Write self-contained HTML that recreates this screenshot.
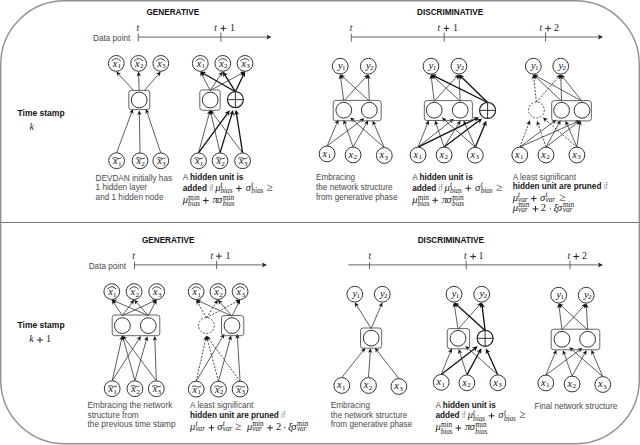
<!DOCTYPE html>
<html><head><meta charset="utf-8"><style>
html,body{margin:0;padding:0;background:#fff;width:640px;height:445px;overflow:hidden}
svg{display:block}

</style></head><body>
<svg width="640" height="445" viewBox="0 0 640 445">
<rect x="0.7" y="0.7" width="638.6" height="443.1" rx="64" ry="64" fill="none" stroke="#909090" stroke-width="1.4"/>
<line x1="0.5" y1="222.5" x2="639.5" y2="222.5" stroke="#777" stroke-width="1.1"/>
<text x="146.5" y="15.2" font-family="Liberation Sans" font-size="8.2" font-weight="bold" font-style="normal" fill="#111" text-anchor="start">GENERATIVE</text>
<text x="93" y="41.3" font-family="Liberation Sans" font-size="8.2" font-weight="normal" font-style="normal" fill="#4a4a4a" text-anchor="start">Data point</text>
<line x1="138.2" y1="37.1" x2="268.5" y2="37.1" stroke="#666" stroke-width="1"/>
<path d="M271.5 37.1L266.5 34.7L267.5 37.1L266.5 39.5Z" fill="#222"/>
<line x1="138.2" y1="33.3" x2="138.2" y2="41.3" stroke="#555" stroke-width="0.9"/>
<line x1="220.9" y1="32.7" x2="220.9" y2="41.7" stroke="#555" stroke-width="0.9"/>
<text x="136.6" y="30.7" font-family="Liberation Serif" font-size="9.5" font-style="italic" fill="#222">t</text>
<text x="214.2" y="30.7" font-family="Liberation Serif" font-size="9.5" font-style="italic" fill="#222">t</text>
<path d="M220.4 28.4H226.2M223.3 25.5V31.3" stroke="#222" stroke-width="0.95" fill="none"/>
<text x="230" y="30.7" font-family="Liberation Serif" font-size="10" fill="#222">1</text>
<text x="417" y="15.2" font-family="Liberation Sans" font-size="8.2" font-weight="bold" font-style="normal" fill="#111" text-anchor="start">DISCRIMINATIVE</text>
<line x1="351.3" y1="37" x2="600" y2="37" stroke="#666" stroke-width="1"/>
<path d="M603 37L598 34.6L599 37L598 39.4Z" fill="#222"/>
<line x1="351.3" y1="33.6" x2="351.3" y2="41.6" stroke="#555" stroke-width="0.9"/>
<line x1="444.2" y1="32.6" x2="444.2" y2="41.7" stroke="#555" stroke-width="0.9"/>
<line x1="545.6" y1="32.4" x2="545.6" y2="41.7" stroke="#555" stroke-width="0.9"/>
<text x="349.8" y="30.7" font-family="Liberation Serif" font-size="9.5" font-style="italic" fill="#222">t</text>
<text x="437.4" y="30.7" font-family="Liberation Serif" font-size="9.5" font-style="italic" fill="#222">t</text>
<path d="M443.5 28.4H449.3M446.4 25.5V31.3" stroke="#222" stroke-width="0.95" fill="none"/>
<text x="453.1" y="30.7" font-family="Liberation Serif" font-size="10" fill="#222">1</text>
<text x="539.6" y="30.7" font-family="Liberation Serif" font-size="9.5" font-style="italic" fill="#222">t</text>
<path d="M545.2 28.4H551M548.1 25.5V31.3" stroke="#222" stroke-width="0.95" fill="none"/>
<text x="554" y="30.7" font-family="Liberation Serif" font-size="10" fill="#222">2</text>
<text x="141.9" y="242.5" font-family="Liberation Sans" font-size="8.2" font-weight="bold" font-style="normal" fill="#111" text-anchor="start">GENERATIVE</text>
<text x="88.7" y="268.9" font-family="Liberation Sans" font-size="8.2" font-weight="normal" font-style="normal" fill="#4a4a4a" text-anchor="start">Data point</text>
<line x1="134.5" y1="264.9" x2="264" y2="264.9" stroke="#666" stroke-width="1"/>
<path d="M267 264.9L262 262.5L263 264.9L262 267.3Z" fill="#222"/>
<line x1="134.5" y1="261.7" x2="134.5" y2="269" stroke="#555" stroke-width="0.9"/>
<line x1="216.6" y1="260.9" x2="216.6" y2="269" stroke="#555" stroke-width="0.9"/>
<text x="132.3" y="258.5" font-family="Liberation Serif" font-size="9.5" font-style="italic" fill="#222">t</text>
<text x="210.5" y="258.5" font-family="Liberation Serif" font-size="9.5" font-style="italic" fill="#222">t</text>
<path d="M216 256.2H221.8M218.9 253.3V259.1" stroke="#222" stroke-width="0.95" fill="none"/>
<text x="225.5" y="258.5" font-family="Liberation Serif" font-size="10" fill="#222">1</text>
<text x="417.7" y="242.5" font-family="Liberation Sans" font-size="8.2" font-weight="bold" font-style="normal" fill="#111" text-anchor="start">DISCRIMINATIVE</text>
<line x1="348.3" y1="264.9" x2="600" y2="264.9" stroke="#666" stroke-width="1"/>
<path d="M603 264.9L598 262.5L599 264.9L598 267.3Z" fill="#222"/>
<line x1="369.5" y1="262.5" x2="369.5" y2="269.1" stroke="#555" stroke-width="0.9"/>
<line x1="466.2" y1="260.7" x2="466.2" y2="269.1" stroke="#555" stroke-width="0.9"/>
<line x1="570" y1="260.7" x2="570" y2="269.1" stroke="#555" stroke-width="0.9"/>
<text x="368.6" y="258.8" font-family="Liberation Serif" font-size="9.5" font-style="italic" fill="#222">t</text>
<text x="464.1" y="258.8" font-family="Liberation Serif" font-size="9.5" font-style="italic" fill="#222">t</text>
<path d="M470.2 256.5H476M473.1 253.6V259.4" stroke="#222" stroke-width="0.95" fill="none"/>
<text x="478.6" y="258.8" font-family="Liberation Serif" font-size="10" fill="#222">1</text>
<text x="567.6" y="258.8" font-family="Liberation Serif" font-size="9.5" font-style="italic" fill="#222">t</text>
<path d="M573.3 256.5H579.1M576.2 253.6V259.4" stroke="#222" stroke-width="0.95" fill="none"/>
<text x="582.1" y="258.8" font-family="Liberation Serif" font-size="10" fill="#222">2</text>
<text x="17.5" y="115.8" font-family="Liberation Sans" font-size="8.5" font-weight="bold" font-style="normal" fill="#111" text-anchor="start">Time stamp</text>
<text x="29.6" y="129.7" font-family="Liberation Serif" font-size="10" font-weight="normal" font-style="italic" fill="#222" text-anchor="start">k</text>
<text x="17.5" y="327.8" font-family="Liberation Sans" font-size="8.5" font-weight="bold" font-style="normal" fill="#111" text-anchor="start">Time stamp</text>
<text x="29.2" y="342.3" font-family="Liberation Serif" font-size="10" font-weight="normal" font-style="italic" fill="#222" text-anchor="start">k</text>
<path d="M37.1 340H42.9M40 337.1V342.9" stroke="#222" stroke-width="0.95" fill="none"/>
<text x="46.1" y="342.3" font-family="Liberation Serif" font-size="10" font-weight="normal" font-style="normal" fill="#222" text-anchor="start">1</text>
<line x1="133.8" y1="90.6" x2="118.25" y2="73.72" stroke="#2a2a2a" stroke-width="0.75"/>
<path d="M116.3 71.6L121.17 73.64L118.58 74.07L117.93 76.62Z" fill="#111"/>
<line x1="139.1" y1="90.6" x2="138.68" y2="74.48" stroke="#2a2a2a" stroke-width="0.75"/>
<path d="M138.6 71.6L140.93 76.34L138.69 74.96L136.53 76.46Z" fill="#111"/>
<line x1="144.4" y1="90.6" x2="158.92" y2="73.78" stroke="#2a2a2a" stroke-width="0.75"/>
<path d="M160.8 71.6L159.33 76.67L158.6 74.14L156 73.8Z" fill="#111"/>
<line x1="116.6" y1="152.8" x2="131.9" y2="111.6" stroke="#2a2a2a" stroke-width="0.75"/>
<path d="M132.9 108.9L133.29 114.17L131.73 112.05L129.17 112.63Z" fill="#111"/>
<line x1="140" y1="152.9" x2="139.35" y2="113.28" stroke="#2a2a2a" stroke-width="0.75"/>
<path d="M139.3 110.4L141.58 115.16L139.36 113.76L137.18 115.24Z" fill="#111"/>
<line x1="160.8" y1="152.9" x2="146.92" y2="111.63" stroke="#2a2a2a" stroke-width="0.75"/>
<path d="M146 108.9L149.62 112.75L147.07 112.08L145.45 114.15Z" fill="#111"/>
<rect x="128.8" y="90.4" width="21" height="19.2" rx="2.6" fill="none" stroke="#555" stroke-width="0.9"/>
<circle cx="139.2" cy="100" r="7.9" fill="#fff" stroke="#333" stroke-width="1.0"/>
<circle cx="116.3" cy="63.4" r="7.9" fill="#fff" stroke="#333" stroke-width="1.0"/>
<text x="112.7" y="67" font-family="Liberation Serif" font-size="10.4" font-style="italic" fill="#111">x</text>
<text x="117.6" y="68.4" font-family="Liberation Serif" font-size="7.1" fill="#111">1</text>
<path d="M111.7 61Q114.1 58.8 116.3 58.5Q118.5 58.8 120.9 61" fill="none" stroke="#222" stroke-width="0.85" stroke-linejoin="round"/>
<circle cx="138.6" cy="63.4" r="7.9" fill="#fff" stroke="#333" stroke-width="1.0"/>
<text x="135" y="67" font-family="Liberation Serif" font-size="10.4" font-style="italic" fill="#111">x</text>
<text x="139.9" y="68.4" font-family="Liberation Serif" font-size="7.1" fill="#111">2</text>
<path d="M134 61Q136.4 58.8 138.6 58.5Q140.8 58.8 143.2 61" fill="none" stroke="#222" stroke-width="0.85" stroke-linejoin="round"/>
<circle cx="160.8" cy="63.4" r="7.9" fill="#fff" stroke="#333" stroke-width="1.0"/>
<text x="157.2" y="67" font-family="Liberation Serif" font-size="10.4" font-style="italic" fill="#111">x</text>
<text x="162.1" y="68.4" font-family="Liberation Serif" font-size="7.1" fill="#111">3</text>
<path d="M156.2 61Q158.6 58.8 160.8 58.5Q163 58.8 165.4 61" fill="none" stroke="#222" stroke-width="0.85" stroke-linejoin="round"/>
<circle cx="116.6" cy="160.7" r="7.9" fill="#fff" stroke="#333" stroke-width="1.0"/>
<text x="113" y="164.3" font-family="Liberation Serif" font-size="10.4" font-style="italic" fill="#111">x</text>
<text x="117.9" y="165.7" font-family="Liberation Serif" font-size="7.1" fill="#111">1</text>
<path d="M112.3 158.7C113.6 157.1 115.6 157.5 116.9 158.1S120.2 159.1 121.5 157.5" fill="none" stroke="#222" stroke-width="0.85"/>
<circle cx="140" cy="160.8" r="7.9" fill="#fff" stroke="#333" stroke-width="1.0"/>
<text x="136.4" y="164.4" font-family="Liberation Serif" font-size="10.4" font-style="italic" fill="#111">x</text>
<text x="141.3" y="165.8" font-family="Liberation Serif" font-size="7.1" fill="#111">2</text>
<path d="M135.7 158.8C137 157.2 139 157.6 140.3 158.2S143.6 159.2 144.9 157.6" fill="none" stroke="#222" stroke-width="0.85"/>
<circle cx="160.8" cy="160.8" r="7.9" fill="#fff" stroke="#333" stroke-width="1.0"/>
<text x="157.2" y="164.4" font-family="Liberation Serif" font-size="10.4" font-style="italic" fill="#111">x</text>
<text x="162.1" y="165.8" font-family="Liberation Serif" font-size="7.1" fill="#111">3</text>
<path d="M156.5 158.8C157.8 157.2 159.8 157.6 161.1 158.2S164.4 159.2 165.7 157.6" fill="none" stroke="#222" stroke-width="0.85"/>
<line x1="210.2" y1="90.5" x2="201.64" y2="74.15" stroke="#2a2a2a" stroke-width="0.75"/>
<path d="M200.3 71.6L204.48 74.83L201.86 74.58L200.58 76.87Z" fill="#111"/>
<line x1="210.2" y1="90.5" x2="221.2" y2="74" stroke="#2a2a2a" stroke-width="0.75"/>
<path d="M222.8 71.6L221.97 76.81L220.94 74.4L218.31 74.37Z" fill="#111"/>
<line x1="210.2" y1="90.5" x2="242.47" y2="72.97" stroke="#2a2a2a" stroke-width="0.75"/>
<path d="M245 71.6L241.83 75.82L242.05 73.2L239.73 71.96Z" fill="#111"/>
<line x1="235.4" y1="91.7" x2="203.11" y2="73.21" stroke="#111" stroke-width="1.3"/>
<path d="M200.3 71.6L206.28 72.03L203.58 73.48L203.69 76.54Z" fill="#111"/>
<line x1="235.4" y1="91.7" x2="224.52" y2="74.35" stroke="#111" stroke-width="1.3"/>
<path d="M222.8 71.6L227.87 74.79L224.81 74.8L223.47 77.56Z" fill="#111"/>
<line x1="235.4" y1="91.7" x2="243.6" y2="74.52" stroke="#111" stroke-width="1.3"/>
<path d="M245 71.6L245.02 77.59L243.37 75.01L240.33 75.35Z" fill="#111"/>
<line x1="198.5" y1="152.9" x2="209.44" y2="112.68" stroke="#2a2a2a" stroke-width="0.75"/>
<path d="M210.2 109.9L211.06 115.11L209.32 113.14L206.82 113.95Z" fill="#111"/>
<line x1="198.5" y1="152.9" x2="227.88" y2="112.91" stroke="#111" stroke-width="1.3"/>
<path d="M229.8 110.3L228.7 116.19L227.56 113.35L224.51 113.11Z" fill="#111"/>
<line x1="220" y1="152.9" x2="210.84" y2="112.71" stroke="#2a2a2a" stroke-width="0.75"/>
<path d="M210.2 109.9L213.41 114.09L210.95 113.18L209.12 115.07Z" fill="#111"/>
<line x1="220" y1="152.9" x2="232.15" y2="113.1" stroke="#111" stroke-width="1.3"/>
<path d="M233.1 110L234.01 115.92L232 113.62L229.04 114.41Z" fill="#111"/>
<line x1="242.6" y1="152.9" x2="211.93" y2="112.2" stroke="#2a2a2a" stroke-width="0.75"/>
<path d="M210.2 109.9L214.85 112.41L212.22 112.58L211.33 115.06Z" fill="#111"/>
<line x1="242.6" y1="152.9" x2="236.4" y2="113" stroke="#111" stroke-width="1.3"/>
<path d="M235.9 109.8L239.3 114.74L236.48 113.54L234.16 115.54Z" fill="#111"/>
<rect x="199.8" y="89.9" width="20.4" height="20.4" rx="2.6" fill="none" stroke="#555" stroke-width="0.9"/>
<circle cx="210.2" cy="100" r="7.9" fill="#fff" stroke="#333" stroke-width="1.0"/>
<circle cx="235.4" cy="99.6" r="8.0" fill="#fff" stroke="#1a1a1a" stroke-width="1.15"/>
<path d="M227.4 99.6H243.4M235.4 91.6V107.6" stroke="#333" stroke-width="1"/>
<circle cx="200.3" cy="63.4" r="7.9" fill="#fff" stroke="#333" stroke-width="1.0"/>
<text x="196.7" y="67" font-family="Liberation Serif" font-size="10.4" font-style="italic" fill="#111">x</text>
<text x="201.6" y="68.4" font-family="Liberation Serif" font-size="7.1" fill="#111">1</text>
<path d="M195.7 61Q198.1 58.8 200.3 58.5Q202.5 58.8 204.9 61" fill="none" stroke="#222" stroke-width="0.85" stroke-linejoin="round"/>
<circle cx="222.8" cy="63.4" r="7.9" fill="#fff" stroke="#333" stroke-width="1.0"/>
<text x="219.2" y="67" font-family="Liberation Serif" font-size="10.4" font-style="italic" fill="#111">x</text>
<text x="224.1" y="68.4" font-family="Liberation Serif" font-size="7.1" fill="#111">2</text>
<path d="M218.2 61Q220.6 58.8 222.8 58.5Q225 58.8 227.4 61" fill="none" stroke="#222" stroke-width="0.85" stroke-linejoin="round"/>
<circle cx="245" cy="63.4" r="7.9" fill="#fff" stroke="#333" stroke-width="1.0"/>
<text x="241.4" y="67" font-family="Liberation Serif" font-size="10.4" font-style="italic" fill="#111">x</text>
<text x="246.3" y="68.4" font-family="Liberation Serif" font-size="7.1" fill="#111">3</text>
<path d="M240.4 61Q242.8 58.8 245 58.5Q247.2 58.8 249.6 61" fill="none" stroke="#222" stroke-width="0.85" stroke-linejoin="round"/>
<circle cx="198.5" cy="160.8" r="7.9" fill="#fff" stroke="#333" stroke-width="1.0"/>
<text x="194.9" y="164.4" font-family="Liberation Serif" font-size="10.4" font-style="italic" fill="#111">x</text>
<text x="199.8" y="165.8" font-family="Liberation Serif" font-size="7.1" fill="#111">1</text>
<path d="M194.2 158.8C195.5 157.2 197.5 157.6 198.8 158.2S202.1 159.2 203.4 157.6" fill="none" stroke="#222" stroke-width="0.85"/>
<circle cx="220" cy="160.8" r="7.9" fill="#fff" stroke="#333" stroke-width="1.0"/>
<text x="216.4" y="164.4" font-family="Liberation Serif" font-size="10.4" font-style="italic" fill="#111">x</text>
<text x="221.3" y="165.8" font-family="Liberation Serif" font-size="7.1" fill="#111">2</text>
<path d="M215.7 158.8C217 157.2 219 157.6 220.3 158.2S223.6 159.2 224.9 157.6" fill="none" stroke="#222" stroke-width="0.85"/>
<circle cx="242.6" cy="160.8" r="7.9" fill="#fff" stroke="#333" stroke-width="1.0"/>
<text x="239" y="164.4" font-family="Liberation Serif" font-size="10.4" font-style="italic" fill="#111">x</text>
<text x="243.9" y="165.8" font-family="Liberation Serif" font-size="7.1" fill="#111">3</text>
<path d="M238.3 158.8C239.6 157.2 241.6 157.6 242.9 158.2S246.2 159.2 247.5 157.6" fill="none" stroke="#222" stroke-width="0.85"/>
<line x1="343.8" y1="101" x2="340.59" y2="77.25" stroke="#2a2a2a" stroke-width="0.75"/>
<path d="M340.2 74.4L343.02 78.86L340.65 77.73L338.66 79.45Z" fill="#111"/>
<line x1="343.8" y1="101" x2="366.35" y2="76.52" stroke="#2a2a2a" stroke-width="0.75"/>
<path d="M368.3 74.4L366.67 79.42L366.02 76.87L363.43 76.44Z" fill="#111"/>
<line x1="369.3" y1="101" x2="342.33" y2="76.34" stroke="#2a2a2a" stroke-width="0.75"/>
<path d="M340.2 74.4L345.23 76.01L342.68 76.67L342.26 79.26Z" fill="#111"/>
<line x1="369.3" y1="101" x2="368.41" y2="77.28" stroke="#2a2a2a" stroke-width="0.75"/>
<path d="M368.3 74.4L370.68 79.11L368.43 77.76L366.28 79.28Z" fill="#111"/>
<line x1="327.1" y1="146" x2="337.27" y2="122.25" stroke="#2a2a2a" stroke-width="0.75"/>
<path d="M338.4 119.6L338.53 124.88L337.08 122.69L334.49 123.15Z" fill="#111"/>
<line x1="327.1" y1="146" x2="362.09" y2="119.92" stroke="#2a2a2a" stroke-width="0.75"/>
<path d="M364.4 118.2L361.87 122.83L361.71 120.21L359.24 119.3Z" fill="#111"/>
<line x1="353.1" y1="147" x2="344.55" y2="122.52" stroke="#2a2a2a" stroke-width="0.75"/>
<path d="M343.6 119.8L347.26 123.61L344.71 122.97L343.11 125.06Z" fill="#111"/>
<line x1="353.1" y1="147" x2="366.78" y2="122.81" stroke="#2a2a2a" stroke-width="0.75"/>
<path d="M368.2 120.3L367.75 125.56L366.55 123.22L363.92 123.4Z" fill="#111"/>
<line x1="384.3" y1="147.6" x2="352.36" y2="119.5" stroke="#2a2a2a" stroke-width="0.75"/>
<path d="M350.2 117.6L355.26 119.12L352.72 119.82L352.35 122.42Z" fill="#111"/>
<line x1="384.3" y1="147.6" x2="373.75" y2="123.24" stroke="#2a2a2a" stroke-width="0.75"/>
<path d="M372.6 120.6L376.53 124.13L373.94 123.68L372.49 125.88Z" fill="#111"/>
<rect x="333.2" y="100.4" width="48" height="20.4" rx="2.6" fill="none" stroke="#555" stroke-width="0.9"/>
<circle cx="343.8" cy="110.2" r="7.9" fill="#fff" stroke="#333" stroke-width="1.0"/>
<circle cx="369.3" cy="110.2" r="7.9" fill="#fff" stroke="#333" stroke-width="1.0"/>
<circle cx="340.2" cy="66.2" r="7.9" fill="#fff" stroke="#333" stroke-width="1.0"/>
<text x="337.9" y="68.5" font-family="Liberation Serif" font-size="10.4" font-style="italic" fill="#111">y</text>
<text x="342" y="70.3" font-family="Liberation Serif" font-size="7.1" fill="#111">1</text>
<circle cx="368.3" cy="66.2" r="7.9" fill="#fff" stroke="#333" stroke-width="1.0"/>
<text x="366" y="68.5" font-family="Liberation Serif" font-size="10.4" font-style="italic" fill="#111">y</text>
<text x="370.1" y="70.3" font-family="Liberation Serif" font-size="7.1" fill="#111">2</text>
<circle cx="327.1" cy="153.9" r="7.9" fill="#fff" stroke="#333" stroke-width="1.0"/>
<text x="322.4" y="156.8" font-family="Liberation Serif" font-size="10.4" font-style="italic" fill="#111">x</text>
<text x="327.4" y="158.1" font-family="Liberation Serif" font-size="7.1" fill="#111">1</text>
<circle cx="353.1" cy="154.9" r="7.9" fill="#fff" stroke="#333" stroke-width="1.0"/>
<text x="348.4" y="157.8" font-family="Liberation Serif" font-size="10.4" font-style="italic" fill="#111">x</text>
<text x="353.4" y="159.1" font-family="Liberation Serif" font-size="7.1" fill="#111">2</text>
<circle cx="384.3" cy="155.5" r="7.9" fill="#fff" stroke="#333" stroke-width="1.0"/>
<text x="379.6" y="158.4" font-family="Liberation Serif" font-size="10.4" font-style="italic" fill="#111">x</text>
<text x="384.6" y="159.7" font-family="Liberation Serif" font-size="7.1" fill="#111">3</text>
<line x1="434.2" y1="101.2" x2="431.34" y2="77.26" stroke="#2a2a2a" stroke-width="0.75"/>
<path d="M431 74.4L433.75 78.91L431.4 77.74L429.38 79.43Z" fill="#111"/>
<line x1="434.2" y1="101.2" x2="456.95" y2="76.52" stroke="#2a2a2a" stroke-width="0.75"/>
<path d="M458.9 74.4L457.26 79.42L456.62 76.87L454.03 76.44Z" fill="#111"/>
<line x1="460.2" y1="101.2" x2="433.12" y2="76.35" stroke="#2a2a2a" stroke-width="0.75"/>
<path d="M431 74.4L436.02 76.02L433.48 76.67L433.05 79.27Z" fill="#111"/>
<line x1="460.2" y1="101.2" x2="459.04" y2="77.28" stroke="#2a2a2a" stroke-width="0.75"/>
<path d="M458.9 74.4L461.33 79.09L459.06 77.76L456.94 79.3Z" fill="#111"/>
<line x1="487.6" y1="102.5" x2="433.9" y2="75.84" stroke="#111" stroke-width="1.3"/>
<path d="M431 74.4L436.99 74.47L434.39 76.08L434.68 79.13Z" fill="#111"/>
<line x1="487.6" y1="102.5" x2="461.22" y2="76.67" stroke="#111" stroke-width="1.3"/>
<path d="M458.9 74.4L464.58 76.32L461.6 77.04L460.94 80.04Z" fill="#111"/>
<line x1="418.1" y1="147.1" x2="427.73" y2="122.97" stroke="#2a2a2a" stroke-width="0.75"/>
<path d="M428.8 120.3L429.06 125.57L427.55 123.42L424.98 123.94Z" fill="#111"/>
<line x1="418.1" y1="147.1" x2="451.54" y2="120.59" stroke="#2a2a2a" stroke-width="0.75"/>
<path d="M453.8 118.8L451.41 123.51L451.17 120.89L448.67 120.06Z" fill="#111"/>
<line x1="418.1" y1="147.1" x2="476.09" y2="118.63" stroke="#111" stroke-width="1.3"/>
<path d="M479 117.2L475.3 121.91L475.61 118.87L473.01 117.25Z" fill="#111"/>
<line x1="444.1" y1="147.1" x2="435.93" y2="123.22" stroke="#2a2a2a" stroke-width="0.75"/>
<path d="M435 120.5L438.64 124.33L436.09 123.68L434.47 125.75Z" fill="#111"/>
<line x1="444.1" y1="147.1" x2="459.08" y2="122.95" stroke="#2a2a2a" stroke-width="0.75"/>
<path d="M460.6 120.5L459.94 125.74L458.83 123.36L456.2 123.42Z" fill="#111"/>
<line x1="444.1" y1="147.1" x2="479.61" y2="120.35" stroke="#111" stroke-width="1.3"/>
<path d="M482.2 118.4L479.45 123.73L479.18 120.67L476.32 119.57Z" fill="#111"/>
<line x1="475.3" y1="147.3" x2="444.05" y2="119.51" stroke="#2a2a2a" stroke-width="0.75"/>
<path d="M441.9 117.6L446.95 119.15L444.41 119.83L444.03 122.43Z" fill="#111"/>
<line x1="475.3" y1="147.3" x2="464.75" y2="123.14" stroke="#2a2a2a" stroke-width="0.75"/>
<path d="M463.6 120.5L467.54 124.02L464.94 123.58L463.5 125.78Z" fill="#111"/>
<line x1="475.3" y1="147.3" x2="485.06" y2="123.79" stroke="#111" stroke-width="1.3"/>
<path d="M486.3 120.8L486.63 126.78L484.85 124.29L481.83 124.79Z" fill="#111"/>
<rect x="424.3" y="100.6" width="48.1" height="19.9" rx="2.6" fill="none" stroke="#555" stroke-width="0.9"/>
<circle cx="434.2" cy="110.2" r="7.9" fill="#fff" stroke="#333" stroke-width="1.0"/>
<circle cx="460.2" cy="110.2" r="7.9" fill="#fff" stroke="#333" stroke-width="1.0"/>
<circle cx="487.6" cy="110.4" r="8.0" fill="#fff" stroke="#1a1a1a" stroke-width="1.15"/>
<path d="M479.6 110.4H495.6M487.6 102.4V118.4" stroke="#333" stroke-width="1"/>
<circle cx="431" cy="66.2" r="7.9" fill="#fff" stroke="#333" stroke-width="1.0"/>
<text x="428.7" y="68.5" font-family="Liberation Serif" font-size="10.4" font-style="italic" fill="#111">y</text>
<text x="432.8" y="70.3" font-family="Liberation Serif" font-size="7.1" fill="#111">1</text>
<circle cx="458.9" cy="66.2" r="7.9" fill="#fff" stroke="#333" stroke-width="1.0"/>
<text x="456.6" y="68.5" font-family="Liberation Serif" font-size="10.4" font-style="italic" fill="#111">y</text>
<text x="460.7" y="70.3" font-family="Liberation Serif" font-size="7.1" fill="#111">2</text>
<circle cx="418.1" cy="155" r="7.9" fill="#fff" stroke="#333" stroke-width="1.0"/>
<text x="413.4" y="157.9" font-family="Liberation Serif" font-size="10.4" font-style="italic" fill="#111">x</text>
<text x="418.4" y="159.2" font-family="Liberation Serif" font-size="7.1" fill="#111">1</text>
<circle cx="444.1" cy="155" r="7.9" fill="#fff" stroke="#333" stroke-width="1.0"/>
<text x="439.4" y="157.9" font-family="Liberation Serif" font-size="10.4" font-style="italic" fill="#111">x</text>
<text x="444.4" y="159.2" font-family="Liberation Serif" font-size="7.1" fill="#111">2</text>
<circle cx="475.3" cy="155.2" r="7.9" fill="#fff" stroke="#333" stroke-width="1.0"/>
<text x="470.6" y="158.1" font-family="Liberation Serif" font-size="10.4" font-style="italic" fill="#111">x</text>
<text x="475.6" y="159.4" font-family="Liberation Serif" font-size="7.1" fill="#111">3</text>
<line x1="561.6" y1="101.2" x2="535.39" y2="76.38" stroke="#2a2a2a" stroke-width="0.75"/>
<path d="M533.3 74.4L538.3 76.1L535.74 76.71L535.27 79.3Z" fill="#111"/>
<line x1="561.6" y1="101.2" x2="560.8" y2="77.28" stroke="#2a2a2a" stroke-width="0.75"/>
<path d="M560.7 74.4L563.06 79.12L560.81 77.76L558.66 79.27Z" fill="#111"/>
<line x1="582" y1="101.2" x2="535.82" y2="75.79" stroke="#2a2a2a" stroke-width="0.75"/>
<path d="M533.3 74.4L538.57 74.79L536.24 76.02L536.44 78.64Z" fill="#111"/>
<line x1="582" y1="101.2" x2="562.49" y2="76.65" stroke="#2a2a2a" stroke-width="0.75"/>
<path d="M560.7 74.4L565.41 76.79L562.79 77.03L561.96 79.53Z" fill="#111"/>
<line x1="536.4" y1="102.1" x2="533.62" y2="77.26" stroke="#2a2a2a" stroke-width="0.85" stroke-dasharray="2 1.4"/>
<path d="M533.3 74.4L536.02 78.93L533.67 77.74L531.65 79.41Z" fill="#111"/>
<line x1="536.4" y1="102.1" x2="558.8" y2="76.56" stroke="#2a2a2a" stroke-width="0.85" stroke-dasharray="2 1.4"/>
<path d="M560.7 74.4L559.19 79.46L558.48 76.93L555.88 76.56Z" fill="#111"/>
<line x1="519.8" y1="147.1" x2="553.99" y2="121.52" stroke="#2a2a2a" stroke-width="0.75"/>
<path d="M556.3 119.8L553.77 124.44L553.61 121.81L551.14 120.91Z" fill="#111"/>
<line x1="519.8" y1="147.1" x2="577.67" y2="121.56" stroke="#2a2a2a" stroke-width="0.75"/>
<path d="M580.3 120.4L576.8 124.35L577.23 121.76L575.02 120.33Z" fill="#111"/>
<line x1="519.8" y1="147.1" x2="528.98" y2="122.99" stroke="#2a2a2a" stroke-width="0.85" stroke-dasharray="2 1.4"/>
<path d="M530 120.3L530.35 125.57L528.8 123.44L526.24 124Z" fill="#111"/>
<line x1="546" y1="147.1" x2="559.22" y2="122.83" stroke="#2a2a2a" stroke-width="0.75"/>
<path d="M560.6 120.3L560.24 125.57L558.99 123.25L556.37 123.46Z" fill="#111"/>
<line x1="546" y1="147.1" x2="578.03" y2="122.17" stroke="#2a2a2a" stroke-width="0.75"/>
<path d="M580.3 120.4L577.86 125.08L577.65 122.46L575.16 121.61Z" fill="#111"/>
<line x1="546" y1="147.1" x2="537.94" y2="123.62" stroke="#2a2a2a" stroke-width="0.85" stroke-dasharray="2 1.4"/>
<path d="M537 120.9L540.64 124.72L538.09 124.08L536.48 126.15Z" fill="#111"/>
<line x1="576.9" y1="147.1" x2="566.65" y2="123.44" stroke="#2a2a2a" stroke-width="0.75"/>
<path d="M565.5 120.8L569.43 124.33L566.84 123.88L565.39 126.08Z" fill="#111"/>
<line x1="576.9" y1="147.1" x2="579.94" y2="123.26" stroke="#2a2a2a" stroke-width="0.75"/>
<path d="M580.3 120.4L581.88 125.44L579.88 123.73L577.51 124.88Z" fill="#111"/>
<line x1="576.9" y1="147.1" x2="545.17" y2="119.49" stroke="#2a2a2a" stroke-width="0.85" stroke-dasharray="2 1.4"/>
<path d="M543 117.6L548.07 119.09L545.53 119.81L545.18 122.41Z" fill="#111"/>
<rect x="551.7" y="100.6" width="39.7" height="20.3" rx="2.6" fill="none" stroke="#555" stroke-width="0.9"/>
<circle cx="561.6" cy="110.3" r="7.9" fill="#fff" stroke="#333" stroke-width="1.0"/>
<circle cx="582" cy="110.3" r="7.9" fill="#fff" stroke="#333" stroke-width="1.0"/>
<circle cx="536.4" cy="110" r="7.9" fill="#fff" stroke="#444" stroke-width="0.95" stroke-dasharray="1.9 1.6"/>
<circle cx="533.3" cy="66.2" r="7.9" fill="#fff" stroke="#333" stroke-width="1.0"/>
<text x="531" y="68.5" font-family="Liberation Serif" font-size="10.4" font-style="italic" fill="#111">y</text>
<text x="535.1" y="70.3" font-family="Liberation Serif" font-size="7.1" fill="#111">1</text>
<circle cx="560.7" cy="66.2" r="7.9" fill="#fff" stroke="#333" stroke-width="1.0"/>
<text x="558.4" y="68.5" font-family="Liberation Serif" font-size="10.4" font-style="italic" fill="#111">y</text>
<text x="562.5" y="70.3" font-family="Liberation Serif" font-size="7.1" fill="#111">2</text>
<circle cx="519.8" cy="155" r="7.9" fill="#fff" stroke="#333" stroke-width="1.0"/>
<text x="515.1" y="157.9" font-family="Liberation Serif" font-size="10.4" font-style="italic" fill="#111">x</text>
<text x="520.1" y="159.2" font-family="Liberation Serif" font-size="7.1" fill="#111">1</text>
<circle cx="546" cy="155" r="7.9" fill="#fff" stroke="#333" stroke-width="1.0"/>
<text x="541.3" y="157.9" font-family="Liberation Serif" font-size="10.4" font-style="italic" fill="#111">x</text>
<text x="546.3" y="159.2" font-family="Liberation Serif" font-size="7.1" fill="#111">2</text>
<circle cx="576.9" cy="155" r="7.9" fill="#fff" stroke="#333" stroke-width="1.0"/>
<text x="572.2" y="157.9" font-family="Liberation Serif" font-size="10.4" font-style="italic" fill="#111">x</text>
<text x="577.2" y="159.2" font-family="Liberation Serif" font-size="7.1" fill="#111">3</text>
<line x1="122.4" y1="315.6" x2="113.4" y2="302.19" stroke="#2a2a2a" stroke-width="0.75"/>
<path d="M111.8 299.8L116.3 302.56L113.67 302.59L112.65 305.01Z" fill="#111"/>
<line x1="122.4" y1="315.6" x2="132.39" y2="302.11" stroke="#2a2a2a" stroke-width="0.75"/>
<path d="M134.1 299.8L133.01 304.97L132.1 302.5L129.48 302.35Z" fill="#111"/>
<line x1="122.4" y1="315.6" x2="154.08" y2="301" stroke="#2a2a2a" stroke-width="0.75"/>
<path d="M156.7 299.8L153.26 303.81L153.65 301.21L151.42 299.81Z" fill="#111"/>
<line x1="148.3" y1="315.6" x2="114.44" y2="300.94" stroke="#2a2a2a" stroke-width="0.75"/>
<path d="M111.8 299.8L117.08 299.69L114.88 301.13L115.33 303.73Z" fill="#111"/>
<line x1="148.3" y1="315.6" x2="136.03" y2="301.94" stroke="#2a2a2a" stroke-width="0.75"/>
<path d="M134.1 299.8L138.94 301.9L136.35 302.3L135.67 304.84Z" fill="#111"/>
<line x1="148.3" y1="315.6" x2="155.35" y2="302.34" stroke="#2a2a2a" stroke-width="0.75"/>
<path d="M156.7 299.8L156.39 305.07L155.12 302.77L152.5 303.01Z" fill="#111"/>
<line x1="112.2" y1="380.8" x2="121.77" y2="338.31" stroke="#2a2a2a" stroke-width="0.75"/>
<path d="M122.4 335.5L123.49 340.67L121.66 338.78L119.2 339.7Z" fill="#111"/>
<line x1="112.2" y1="380.8" x2="139.35" y2="338.43" stroke="#2a2a2a" stroke-width="0.75"/>
<path d="M140.9 336L140.16 341.23L139.09 338.83L136.46 338.86Z" fill="#111"/>
<line x1="134.9" y1="380.8" x2="123.17" y2="338.28" stroke="#2a2a2a" stroke-width="0.75"/>
<path d="M122.4 335.5L125.8 339.54L123.29 338.74L121.56 340.71Z" fill="#111"/>
<line x1="134.9" y1="380.8" x2="146.62" y2="338.97" stroke="#2a2a2a" stroke-width="0.75"/>
<path d="M147.4 336.2L148.22 341.42L146.49 339.44L143.99 340.23Z" fill="#111"/>
<line x1="156.3" y1="380.8" x2="124.13" y2="337.81" stroke="#2a2a2a" stroke-width="0.75"/>
<path d="M122.4 335.5L127.04 338.02L124.41 338.19L123.51 340.66Z" fill="#111"/>
<line x1="156.3" y1="380.8" x2="154.8" y2="338.88" stroke="#2a2a2a" stroke-width="0.75"/>
<path d="M154.7 336L157.07 340.72L154.82 339.36L152.67 340.88Z" fill="#111"/>
<rect x="112.2" y="315" width="47.6" height="20.7" rx="2.6" fill="none" stroke="#555" stroke-width="0.9"/>
<circle cx="122.4" cy="325.6" r="7.9" fill="#fff" stroke="#333" stroke-width="1.0"/>
<circle cx="148.3" cy="325.6" r="7.9" fill="#fff" stroke="#333" stroke-width="1.0"/>
<circle cx="111.8" cy="291.6" r="7.9" fill="#fff" stroke="#333" stroke-width="1.0"/>
<text x="108.2" y="295.2" font-family="Liberation Serif" font-size="10.4" font-style="italic" fill="#111">x</text>
<text x="113.1" y="296.6" font-family="Liberation Serif" font-size="7.1" fill="#111">1</text>
<path d="M107.2 289.2Q109.6 287 111.8 286.7Q114 287 116.4 289.2" fill="none" stroke="#222" stroke-width="0.85" stroke-linejoin="round"/>
<circle cx="134.1" cy="291.6" r="7.9" fill="#fff" stroke="#333" stroke-width="1.0"/>
<text x="130.5" y="295.2" font-family="Liberation Serif" font-size="10.4" font-style="italic" fill="#111">x</text>
<text x="135.4" y="296.6" font-family="Liberation Serif" font-size="7.1" fill="#111">2</text>
<path d="M129.5 289.2Q131.9 287 134.1 286.7Q136.3 287 138.7 289.2" fill="none" stroke="#222" stroke-width="0.85" stroke-linejoin="round"/>
<circle cx="156.7" cy="291.6" r="7.9" fill="#fff" stroke="#333" stroke-width="1.0"/>
<text x="153.1" y="295.2" font-family="Liberation Serif" font-size="10.4" font-style="italic" fill="#111">x</text>
<text x="158" y="296.6" font-family="Liberation Serif" font-size="7.1" fill="#111">3</text>
<path d="M152.1 289.2Q154.5 287 156.7 286.7Q158.9 287 161.3 289.2" fill="none" stroke="#222" stroke-width="0.85" stroke-linejoin="round"/>
<circle cx="112.2" cy="388.7" r="7.9" fill="#fff" stroke="#333" stroke-width="1.0"/>
<text x="108.6" y="392.3" font-family="Liberation Serif" font-size="10.4" font-style="italic" fill="#111">x</text>
<text x="113.5" y="393.7" font-family="Liberation Serif" font-size="7.1" fill="#111">1</text>
<path d="M107.9 386.7C109.2 385.1 111.2 385.5 112.5 386.1S115.8 387.1 117.1 385.5" fill="none" stroke="#222" stroke-width="0.85"/>
<circle cx="134.9" cy="388.7" r="7.9" fill="#fff" stroke="#333" stroke-width="1.0"/>
<text x="131.3" y="392.3" font-family="Liberation Serif" font-size="10.4" font-style="italic" fill="#111">x</text>
<text x="136.2" y="393.7" font-family="Liberation Serif" font-size="7.1" fill="#111">2</text>
<path d="M130.6 386.7C131.9 385.1 133.9 385.5 135.2 386.1S138.5 387.1 139.8 385.5" fill="none" stroke="#222" stroke-width="0.85"/>
<circle cx="156.3" cy="388.7" r="7.9" fill="#fff" stroke="#333" stroke-width="1.0"/>
<text x="152.7" y="392.3" font-family="Liberation Serif" font-size="10.4" font-style="italic" fill="#111">x</text>
<text x="157.6" y="393.7" font-family="Liberation Serif" font-size="7.1" fill="#111">3</text>
<path d="M152 386.7C153.3 385.1 155.3 385.5 156.6 386.1S159.9 387.1 161.2 385.5" fill="none" stroke="#222" stroke-width="0.85"/>
<line x1="232" y1="316.1" x2="198.82" y2="300.99" stroke="#2a2a2a" stroke-width="0.75"/>
<path d="M196.2 299.8L201.48 299.79L199.26 301.19L199.66 303.79Z" fill="#111"/>
<line x1="232" y1="316.1" x2="219.78" y2="301.98" stroke="#2a2a2a" stroke-width="0.75"/>
<path d="M217.9 299.8L222.7 301.99L220.1 302.34L219.38 304.87Z" fill="#111"/>
<line x1="232" y1="316.1" x2="238.82" y2="302.38" stroke="#2a2a2a" stroke-width="0.75"/>
<path d="M240.1 299.8L239.93 305.08L238.6 302.81L235.99 303.12Z" fill="#111"/>
<line x1="206.4" y1="317.7" x2="197.63" y2="302.3" stroke="#2a2a2a" stroke-width="0.85" stroke-dasharray="2 1.4"/>
<path d="M196.2 299.8L200.49 302.88L197.86 302.72L196.66 305.06Z" fill="#111"/>
<line x1="206.4" y1="317.7" x2="216.34" y2="302.22" stroke="#2a2a2a" stroke-width="0.85" stroke-dasharray="2 1.4"/>
<path d="M217.9 299.8L217.16 305.03L216.08 302.63L213.45 302.65Z" fill="#111"/>
<line x1="206.4" y1="317.7" x2="237.56" y2="301.15" stroke="#2a2a2a" stroke-width="0.85" stroke-dasharray="2 1.4"/>
<path d="M240.1 299.8L236.89 303.99L237.13 301.38L234.83 300.11Z" fill="#111"/>
<line x1="196.2" y1="381.2" x2="222.93" y2="336.28" stroke="#2a2a2a" stroke-width="0.75"/>
<path d="M224.4 333.8L223.84 339.05L222.68 336.69L220.06 336.8Z" fill="#111"/>
<line x1="196.2" y1="381.2" x2="205.77" y2="338.51" stroke="#2a2a2a" stroke-width="0.85" stroke-dasharray="2 1.4"/>
<path d="M206.4 335.7L207.5 340.86L205.67 338.98L203.2 339.9Z" fill="#111"/>
<line x1="218.5" y1="381.2" x2="230.33" y2="338.28" stroke="#2a2a2a" stroke-width="0.75"/>
<path d="M231.1 335.5L231.95 340.71L230.21 338.74L227.7 339.54Z" fill="#111"/>
<line x1="218.5" y1="381.2" x2="207.14" y2="338.48" stroke="#2a2a2a" stroke-width="0.85" stroke-dasharray="2 1.4"/>
<path d="M206.4 335.7L209.76 339.77L207.26 338.95L205.51 340.9Z" fill="#111"/>
<line x1="240.1" y1="381.2" x2="237.38" y2="336.67" stroke="#2a2a2a" stroke-width="0.75"/>
<path d="M237.2 333.8L239.69 338.46L237.41 337.15L235.3 338.73Z" fill="#111"/>
<line x1="240.1" y1="381.2" x2="208.11" y2="338.01" stroke="#2a2a2a" stroke-width="0.85" stroke-dasharray="2 1.4"/>
<path d="M206.4 335.7L211.02 338.25L208.4 338.4L207.49 340.87Z" fill="#111"/>
<rect x="221.5" y="315.5" width="22.3" height="20.2" rx="2.6" fill="none" stroke="#555" stroke-width="0.9"/>
<circle cx="232" cy="325.6" r="7.9" fill="#fff" stroke="#333" stroke-width="1.0"/>
<circle cx="206.4" cy="325.6" r="7.9" fill="#fff" stroke="#444" stroke-width="0.95" stroke-dasharray="1.9 1.6"/>
<circle cx="196.2" cy="291.6" r="7.9" fill="#fff" stroke="#333" stroke-width="1.0"/>
<text x="192.6" y="295.2" font-family="Liberation Serif" font-size="10.4" font-style="italic" fill="#111">x</text>
<text x="197.5" y="296.6" font-family="Liberation Serif" font-size="7.1" fill="#111">1</text>
<path d="M191.6 289.2Q194 287 196.2 286.7Q198.4 287 200.8 289.2" fill="none" stroke="#222" stroke-width="0.85" stroke-linejoin="round"/>
<circle cx="217.9" cy="291.6" r="7.9" fill="#fff" stroke="#333" stroke-width="1.0"/>
<text x="214.3" y="295.2" font-family="Liberation Serif" font-size="10.4" font-style="italic" fill="#111">x</text>
<text x="219.2" y="296.6" font-family="Liberation Serif" font-size="7.1" fill="#111">2</text>
<path d="M213.3 289.2Q215.7 287 217.9 286.7Q220.1 287 222.5 289.2" fill="none" stroke="#222" stroke-width="0.85" stroke-linejoin="round"/>
<circle cx="240.1" cy="291.6" r="7.9" fill="#fff" stroke="#333" stroke-width="1.0"/>
<text x="236.5" y="295.2" font-family="Liberation Serif" font-size="10.4" font-style="italic" fill="#111">x</text>
<text x="241.4" y="296.6" font-family="Liberation Serif" font-size="7.1" fill="#111">3</text>
<path d="M235.5 289.2Q237.9 287 240.1 286.7Q242.3 287 244.7 289.2" fill="none" stroke="#222" stroke-width="0.85" stroke-linejoin="round"/>
<circle cx="196.2" cy="389.1" r="7.9" fill="#fff" stroke="#333" stroke-width="1.0"/>
<text x="192.6" y="392.7" font-family="Liberation Serif" font-size="10.4" font-style="italic" fill="#111">x</text>
<text x="197.5" y="394.1" font-family="Liberation Serif" font-size="7.1" fill="#111">1</text>
<path d="M191.9 387.1C193.2 385.5 195.2 385.9 196.5 386.5S199.8 387.5 201.1 385.9" fill="none" stroke="#222" stroke-width="0.85"/>
<circle cx="218.5" cy="389.1" r="7.9" fill="#fff" stroke="#333" stroke-width="1.0"/>
<text x="214.9" y="392.7" font-family="Liberation Serif" font-size="10.4" font-style="italic" fill="#111">x</text>
<text x="219.8" y="394.1" font-family="Liberation Serif" font-size="7.1" fill="#111">2</text>
<path d="M214.2 387.1C215.5 385.5 217.5 385.9 218.8 386.5S222.1 387.5 223.4 385.9" fill="none" stroke="#222" stroke-width="0.85"/>
<circle cx="240.1" cy="389.1" r="7.9" fill="#fff" stroke="#333" stroke-width="1.0"/>
<text x="236.5" y="392.7" font-family="Liberation Serif" font-size="10.4" font-style="italic" fill="#111">x</text>
<text x="241.4" y="394.1" font-family="Liberation Serif" font-size="7.1" fill="#111">3</text>
<path d="M235.8 387.1C237.1 385.5 239.1 385.9 240.4 386.5S243.7 387.5 245 385.9" fill="none" stroke="#222" stroke-width="0.85"/>
<line x1="371.2" y1="328.6" x2="356.33" y2="304.84" stroke="#2a2a2a" stroke-width="0.75"/>
<path d="M354.8 302.4L359.21 305.3L356.58 305.25L355.48 307.64Z" fill="#111"/>
<line x1="371.2" y1="328.6" x2="381.18" y2="305.05" stroke="#2a2a2a" stroke-width="0.75"/>
<path d="M382.3 302.4L382.45 307.68L380.99 305.49L378.4 305.96Z" fill="#111"/>
<line x1="341.8" y1="377.6" x2="363.52" y2="350.06" stroke="#2a2a2a" stroke-width="0.75"/>
<path d="M365.3 347.8L364.06 352.93L363.22 350.44L360.6 350.21Z" fill="#111"/>
<line x1="368.5" y1="377.6" x2="370.3" y2="351.07" stroke="#2a2a2a" stroke-width="0.75"/>
<path d="M370.5 348.2L372.37 353.14L370.27 351.55L367.98 352.84Z" fill="#111"/>
<line x1="398.9" y1="378.6" x2="376.57" y2="350.07" stroke="#2a2a2a" stroke-width="0.75"/>
<path d="M374.8 347.8L379.49 350.22L376.87 350.45L376.03 352.94Z" fill="#111"/>
<rect x="360.5" y="328" width="21.2" height="20.2" rx="2.6" fill="none" stroke="#555" stroke-width="0.9"/>
<circle cx="371.2" cy="338.1" r="7.9" fill="#fff" stroke="#333" stroke-width="1.0"/>
<circle cx="354.8" cy="294.2" r="7.9" fill="#fff" stroke="#333" stroke-width="1.0"/>
<text x="352.5" y="296.5" font-family="Liberation Serif" font-size="10.4" font-style="italic" fill="#111">y</text>
<text x="356.6" y="298.3" font-family="Liberation Serif" font-size="7.1" fill="#111">1</text>
<circle cx="382.3" cy="294.2" r="7.9" fill="#fff" stroke="#333" stroke-width="1.0"/>
<text x="380" y="296.5" font-family="Liberation Serif" font-size="10.4" font-style="italic" fill="#111">y</text>
<text x="384.1" y="298.3" font-family="Liberation Serif" font-size="7.1" fill="#111">2</text>
<circle cx="341.8" cy="385.5" r="7.9" fill="#fff" stroke="#333" stroke-width="1.0"/>
<text x="337.1" y="388.4" font-family="Liberation Serif" font-size="10.4" font-style="italic" fill="#111">x</text>
<text x="342.1" y="389.7" font-family="Liberation Serif" font-size="7.1" fill="#111">1</text>
<circle cx="368.5" cy="385.5" r="7.9" fill="#fff" stroke="#333" stroke-width="1.0"/>
<text x="363.8" y="388.4" font-family="Liberation Serif" font-size="10.4" font-style="italic" fill="#111">x</text>
<text x="368.8" y="389.7" font-family="Liberation Serif" font-size="7.1" fill="#111">2</text>
<circle cx="398.9" cy="386.5" r="7.9" fill="#fff" stroke="#333" stroke-width="1.0"/>
<text x="394.2" y="389.4" font-family="Liberation Serif" font-size="10.4" font-style="italic" fill="#111">x</text>
<text x="399.2" y="390.7" font-family="Liberation Serif" font-size="7.1" fill="#111">3</text>
<line x1="458" y1="329.2" x2="454.43" y2="305.25" stroke="#2a2a2a" stroke-width="0.75"/>
<path d="M454 302.4L456.88 306.82L454.5 305.72L452.53 307.47Z" fill="#111"/>
<line x1="458" y1="329.2" x2="479.79" y2="304.56" stroke="#2a2a2a" stroke-width="0.75"/>
<path d="M481.7 302.4L480.17 307.45L479.47 304.92L476.87 304.54Z" fill="#111"/>
<line x1="485.1" y1="330.4" x2="456.41" y2="304.57" stroke="#111" stroke-width="1.3"/>
<path d="M454 302.4L459.75 304.08L456.81 304.93L456.27 307.95Z" fill="#111"/>
<line x1="485.1" y1="330.4" x2="482.09" y2="305.62" stroke="#111" stroke-width="1.3"/>
<path d="M481.7 302.4L484.93 307.45L482.16 306.15L479.77 308.07Z" fill="#111"/>
<line x1="441.2" y1="374.4" x2="450.72" y2="350.97" stroke="#2a2a2a" stroke-width="0.75"/>
<path d="M451.8 348.3L452.03 353.58L450.54 351.41L447.96 351.92Z" fill="#111"/>
<line x1="441.2" y1="374.4" x2="475.13" y2="348.28" stroke="#111" stroke-width="1.3"/>
<path d="M477.7 346.3L475.01 351.65L474.7 348.61L471.84 347.53Z" fill="#111"/>
<line x1="466.9" y1="374.9" x2="459.57" y2="351.84" stroke="#2a2a2a" stroke-width="0.75"/>
<path d="M458.7 349.1L462.25 353.01L459.72 352.3L458.06 354.34Z" fill="#111"/>
<line x1="466.9" y1="374.9" x2="479.85" y2="351.05" stroke="#111" stroke-width="1.3"/>
<path d="M481.4 348.2L481.11 354.19L479.6 351.52L476.54 351.7Z" fill="#111"/>
<line x1="497.9" y1="374.9" x2="467.45" y2="347.81" stroke="#2a2a2a" stroke-width="0.75"/>
<path d="M465.3 345.9L470.35 347.45L467.81 348.13L467.42 350.73Z" fill="#111"/>
<line x1="497.9" y1="374.9" x2="487.24" y2="351.35" stroke="#111" stroke-width="1.3"/>
<path d="M485.9 348.4L490.5 352.25L487.46 351.84L485.76 354.39Z" fill="#111"/>
<rect x="447.3" y="328.6" width="22.3" height="20.2" rx="2.6" fill="none" stroke="#555" stroke-width="0.9"/>
<circle cx="458" cy="338.3" r="7.9" fill="#fff" stroke="#333" stroke-width="1.0"/>
<circle cx="485.1" cy="338.3" r="8.0" fill="#fff" stroke="#1a1a1a" stroke-width="1.15"/>
<path d="M477.1 338.3H493.1M485.1 330.3V346.3" stroke="#333" stroke-width="1"/>
<circle cx="454" cy="294.2" r="7.9" fill="#fff" stroke="#333" stroke-width="1.0"/>
<text x="451.7" y="296.5" font-family="Liberation Serif" font-size="10.4" font-style="italic" fill="#111">y</text>
<text x="455.8" y="298.3" font-family="Liberation Serif" font-size="7.1" fill="#111">1</text>
<circle cx="481.7" cy="294.2" r="7.9" fill="#fff" stroke="#333" stroke-width="1.0"/>
<text x="479.4" y="296.5" font-family="Liberation Serif" font-size="10.4" font-style="italic" fill="#111">y</text>
<text x="483.5" y="298.3" font-family="Liberation Serif" font-size="7.1" fill="#111">2</text>
<circle cx="441.2" cy="382.3" r="7.9" fill="#fff" stroke="#333" stroke-width="1.0"/>
<text x="436.5" y="385.2" font-family="Liberation Serif" font-size="10.4" font-style="italic" fill="#111">x</text>
<text x="441.5" y="386.5" font-family="Liberation Serif" font-size="7.1" fill="#111">1</text>
<circle cx="466.9" cy="382.8" r="7.9" fill="#fff" stroke="#333" stroke-width="1.0"/>
<text x="462.2" y="385.7" font-family="Liberation Serif" font-size="10.4" font-style="italic" fill="#111">x</text>
<text x="467.2" y="387" font-family="Liberation Serif" font-size="7.1" fill="#111">2</text>
<circle cx="497.9" cy="382.8" r="7.9" fill="#fff" stroke="#333" stroke-width="1.0"/>
<text x="493.2" y="385.7" font-family="Liberation Serif" font-size="10.4" font-style="italic" fill="#111">x</text>
<text x="498.2" y="387" font-family="Liberation Serif" font-size="7.1" fill="#111">3</text>
<line x1="562" y1="329.8" x2="559.06" y2="306.26" stroke="#2a2a2a" stroke-width="0.75"/>
<path d="M558.7 303.4L561.48 307.89L559.12 306.73L557.11 308.44Z" fill="#111"/>
<line x1="562" y1="329.8" x2="584.25" y2="305.52" stroke="#2a2a2a" stroke-width="0.75"/>
<path d="M586.2 303.4L584.58 308.42L583.93 305.88L581.33 305.45Z" fill="#111"/>
<line x1="587.6" y1="329.8" x2="560.83" y2="305.34" stroke="#2a2a2a" stroke-width="0.75"/>
<path d="M558.7 303.4L563.73 305.01L561.18 305.67L560.76 308.26Z" fill="#111"/>
<line x1="587.6" y1="329.8" x2="586.35" y2="306.28" stroke="#2a2a2a" stroke-width="0.75"/>
<path d="M586.2 303.4L588.65 308.08L586.38 306.76L584.26 308.31Z" fill="#111"/>
<line x1="545.8" y1="375.1" x2="555.29" y2="352.46" stroke="#2a2a2a" stroke-width="0.75"/>
<path d="M556.4 349.8L556.57 355.08L555.1 352.9L552.52 353.38Z" fill="#111"/>
<line x1="545.8" y1="375.1" x2="579.99" y2="349.72" stroke="#2a2a2a" stroke-width="0.75"/>
<path d="M582.3 348L579.76 352.63L579.6 350L577.13 349.1Z" fill="#111"/>
<line x1="572.1" y1="376.1" x2="563.95" y2="352.92" stroke="#2a2a2a" stroke-width="0.75"/>
<path d="M563 350.2L566.67 354L564.11 353.37L562.52 355.46Z" fill="#111"/>
<line x1="572.1" y1="376.1" x2="585.19" y2="352.71" stroke="#2a2a2a" stroke-width="0.75"/>
<path d="M586.6 350.2L586.17 355.46L584.96 353.13L582.34 353.31Z" fill="#111"/>
<line x1="602.8" y1="376.6" x2="571.37" y2="349.1" stroke="#2a2a2a" stroke-width="0.75"/>
<path d="M569.2 347.2L574.26 348.71L571.73 349.41L571.36 352.02Z" fill="#111"/>
<line x1="602.8" y1="376.6" x2="592.53" y2="352.65" stroke="#2a2a2a" stroke-width="0.75"/>
<path d="M591.4 350L595.31 353.55L592.72 353.09L591.27 355.28Z" fill="#111"/>
<rect x="551.2" y="329.2" width="48.6" height="20.6" rx="2.6" fill="none" stroke="#555" stroke-width="0.9"/>
<circle cx="562" cy="339.3" r="7.9" fill="#fff" stroke="#333" stroke-width="1.0"/>
<circle cx="587.6" cy="339.3" r="7.9" fill="#fff" stroke="#333" stroke-width="1.0"/>
<circle cx="558.7" cy="295.2" r="7.9" fill="#fff" stroke="#333" stroke-width="1.0"/>
<text x="556.4" y="297.5" font-family="Liberation Serif" font-size="10.4" font-style="italic" fill="#111">y</text>
<text x="560.5" y="299.3" font-family="Liberation Serif" font-size="7.1" fill="#111">1</text>
<circle cx="586.2" cy="295.2" r="7.9" fill="#fff" stroke="#333" stroke-width="1.0"/>
<text x="583.9" y="297.5" font-family="Liberation Serif" font-size="10.4" font-style="italic" fill="#111">y</text>
<text x="588" y="299.3" font-family="Liberation Serif" font-size="7.1" fill="#111">2</text>
<circle cx="545.8" cy="383" r="7.9" fill="#fff" stroke="#333" stroke-width="1.0"/>
<text x="541.1" y="385.9" font-family="Liberation Serif" font-size="10.4" font-style="italic" fill="#111">x</text>
<text x="546.1" y="387.2" font-family="Liberation Serif" font-size="7.1" fill="#111">1</text>
<circle cx="572.1" cy="384" r="7.9" fill="#fff" stroke="#333" stroke-width="1.0"/>
<text x="567.4" y="386.9" font-family="Liberation Serif" font-size="10.4" font-style="italic" fill="#111">x</text>
<text x="572.4" y="388.2" font-family="Liberation Serif" font-size="7.1" fill="#111">2</text>
<circle cx="602.8" cy="384.5" r="7.9" fill="#fff" stroke="#333" stroke-width="1.0"/>
<text x="598.1" y="387.4" font-family="Liberation Serif" font-size="10.4" font-style="italic" fill="#111">x</text>
<text x="603.1" y="388.7" font-family="Liberation Serif" font-size="7.1" fill="#111">3</text>
<text x="95.6" y="180.6" font-family="Liberation Sans" font-size="8.2" font-weight="normal" font-style="normal" fill="#4a4a4a" text-anchor="start">DEVDAN initially has</text>
<text x="95.6" y="190.1" font-family="Liberation Sans" font-size="8.2" font-weight="normal" font-style="normal" fill="#4a4a4a" text-anchor="start">1 hidden layer</text>
<text x="95.6" y="199.6" font-family="Liberation Sans" font-size="8.2" font-weight="normal" font-style="normal" fill="#4a4a4a" text-anchor="start">and 1 hidden node</text>
<text x="316" y="180" font-family="Liberation Sans" font-size="8.2" font-weight="normal" font-style="normal" fill="#4a4a4a" text-anchor="start">Embracing</text>
<text x="316" y="190" font-family="Liberation Sans" font-size="8.2" font-weight="normal" font-style="normal" fill="#4a4a4a" text-anchor="start">the network structure</text>
<text x="316" y="200" font-family="Liberation Sans" font-size="8.2" font-weight="normal" font-style="normal" fill="#4a4a4a" text-anchor="start">from generative phase</text>
<text x="87.5" y="407.8" font-family="Liberation Sans" font-size="8.3" font-weight="normal" font-style="normal" fill="#4a4a4a" text-anchor="start">Embracing the network</text>
<text x="87.5" y="417.5" font-family="Liberation Sans" font-size="8.3" font-weight="normal" font-style="normal" fill="#4a4a4a" text-anchor="start">structure from</text>
<text x="87.5" y="427.2" font-family="Liberation Sans" font-size="8.3" font-weight="normal" font-style="normal" fill="#4a4a4a" text-anchor="start">the previous time stamp</text>
<text x="330.8" y="407.9" font-family="Liberation Sans" font-size="8.2" font-weight="normal" font-style="normal" fill="#4a4a4a" text-anchor="start">Embracing</text>
<text x="330.8" y="417.5" font-family="Liberation Sans" font-size="8.2" font-weight="normal" font-style="normal" fill="#4a4a4a" text-anchor="start">the network structure</text>
<text x="330.8" y="427.1" font-family="Liberation Sans" font-size="8.2" font-weight="normal" font-style="normal" fill="#4a4a4a" text-anchor="start">from generative phase</text>
<text x="534.4" y="409.3" font-family="Liberation Sans" font-size="8.2" font-weight="normal" font-style="normal" fill="#4a4a4a" text-anchor="start">Final network structure</text>
<text x="182.8" y="179.7" font-family="Liberation Sans" font-size="8.2" fill="#4a4a4a">A <tspan font-weight="bold" fill="#151515">hidden unit is</tspan></text>
<text x="182.8" y="190.8" font-family="Liberation Sans" font-size="8.2" fill="#4a4a4a"><tspan font-weight="bold" fill="#151515">added</tspan> <tspan fill="#9a9a9a">if</tspan></text>
<text x="215.2" y="190.8" font-family="Liberation Serif" font-size="10.5" font-style="italic" fill="#1a1a1a">μ</text>
<text x="220.5" y="187.2" font-family="Liberation Serif" font-size="7.2" font-style="italic" fill="#1a1a1a">t</text>
<text x="220.5" y="193.3" font-family="Liberation Serif" font-size="7.2" font-style="italic" fill="#1a1a1a">bias</text>
<path d="M236 188.5H241.8M238.9 185.6V191.4" stroke="#222" stroke-width="0.95" fill="none"/>
<text x="245.69" y="190.8" font-family="Liberation Serif" font-size="10.5" font-style="italic" fill="#1a1a1a">σ</text>
<text x="251.3" y="187.2" font-family="Liberation Serif" font-size="7.2" font-style="italic" fill="#1a1a1a">t</text>
<text x="251.3" y="193.3" font-family="Liberation Serif" font-size="7.2" font-style="italic" fill="#1a1a1a">bias</text>
<text x="266.55" y="191.1" font-family="Liberation Serif" font-size="11.5" fill="#1a1a1a">≥</text>
<text x="182.8" y="202.8" font-family="Liberation Serif" font-size="10.5" font-style="italic" fill="#1a1a1a">μ</text>
<text x="188.3" y="199.8" font-family="Liberation Serif" font-size="7.2" fill="#1a1a1a">min</text>
<text x="188.1" y="206.4" font-family="Liberation Serif" font-size="7.2" font-style="italic" fill="#1a1a1a">bias</text>
<path d="M202.9 200.5H208.7M205.8 197.6V203.4" stroke="#222" stroke-width="0.95" fill="none"/>
<text x="212.5" y="202.8" font-family="Liberation Serif" font-size="10.5" font-style="italic" fill="#1a1a1a">π</text>
<text x="217.09" y="202.8" font-family="Liberation Serif" font-size="10.5" font-style="italic" fill="#1a1a1a">σ</text>
<text x="222.9" y="199.8" font-family="Liberation Serif" font-size="7.2" fill="#1a1a1a">min</text>
<text x="222.7" y="206.4" font-family="Liberation Serif" font-size="7.2" font-style="italic" fill="#1a1a1a">bias</text>
<text x="412.2" y="180" font-family="Liberation Sans" font-size="8.2" fill="#4a4a4a">A <tspan font-weight="bold" fill="#151515">hidden unit is</tspan></text>
<text x="412.2" y="190.6" font-family="Liberation Sans" font-size="8.2" fill="#4a4a4a"><tspan font-weight="bold" fill="#151515">added</tspan> <tspan fill="#9a9a9a">if</tspan></text>
<text x="444.6" y="190.6" font-family="Liberation Serif" font-size="10.5" font-style="italic" fill="#1a1a1a">μ</text>
<text x="449.9" y="187" font-family="Liberation Serif" font-size="7.2" font-style="italic" fill="#1a1a1a">t</text>
<text x="449.9" y="193.1" font-family="Liberation Serif" font-size="7.2" font-style="italic" fill="#1a1a1a">bias</text>
<path d="M465.4 188.3H471.2M468.3 185.4V191.2" stroke="#222" stroke-width="0.95" fill="none"/>
<text x="475.08" y="190.6" font-family="Liberation Serif" font-size="10.5" font-style="italic" fill="#1a1a1a">σ</text>
<text x="480.7" y="187" font-family="Liberation Serif" font-size="7.2" font-style="italic" fill="#1a1a1a">t</text>
<text x="480.7" y="193.1" font-family="Liberation Serif" font-size="7.2" font-style="italic" fill="#1a1a1a">bias</text>
<text x="495.95" y="190.9" font-family="Liberation Serif" font-size="11.5" fill="#1a1a1a">≥</text>
<text x="412.2" y="202.6" font-family="Liberation Serif" font-size="10.5" font-style="italic" fill="#1a1a1a">μ</text>
<text x="417.7" y="199.6" font-family="Liberation Serif" font-size="7.2" fill="#1a1a1a">min</text>
<text x="417.5" y="206.2" font-family="Liberation Serif" font-size="7.2" font-style="italic" fill="#1a1a1a">bias</text>
<path d="M432.3 200.3H438.1M435.2 197.4V203.2" stroke="#222" stroke-width="0.95" fill="none"/>
<text x="441.89" y="202.6" font-family="Liberation Serif" font-size="10.5" font-style="italic" fill="#1a1a1a">π</text>
<text x="446.49" y="202.6" font-family="Liberation Serif" font-size="10.5" font-style="italic" fill="#1a1a1a">σ</text>
<text x="452.3" y="199.6" font-family="Liberation Serif" font-size="7.2" fill="#1a1a1a">min</text>
<text x="452.1" y="206.2" font-family="Liberation Serif" font-size="7.2" font-style="italic" fill="#1a1a1a">bias</text>
<text x="435.4" y="407.7" font-family="Liberation Sans" font-size="8.2" fill="#4a4a4a">A <tspan font-weight="bold" fill="#151515">hidden unit is</tspan></text>
<text x="435.4" y="418.1" font-family="Liberation Sans" font-size="8.2" fill="#4a4a4a"><tspan font-weight="bold" fill="#151515">added</tspan> <tspan fill="#9a9a9a">if</tspan></text>
<text x="467.8" y="418.1" font-family="Liberation Serif" font-size="10.5" font-style="italic" fill="#1a1a1a">μ</text>
<text x="473.1" y="414.5" font-family="Liberation Serif" font-size="7.2" font-style="italic" fill="#1a1a1a">t</text>
<text x="473.1" y="420.6" font-family="Liberation Serif" font-size="7.2" font-style="italic" fill="#1a1a1a">bias</text>
<path d="M488.6 415.8H494.4M491.5 412.9V418.7" stroke="#222" stroke-width="0.95" fill="none"/>
<text x="498.28" y="418.1" font-family="Liberation Serif" font-size="10.5" font-style="italic" fill="#1a1a1a">σ</text>
<text x="503.9" y="414.5" font-family="Liberation Serif" font-size="7.2" font-style="italic" fill="#1a1a1a">t</text>
<text x="503.9" y="420.6" font-family="Liberation Serif" font-size="7.2" font-style="italic" fill="#1a1a1a">bias</text>
<text x="519.15" y="418.4" font-family="Liberation Serif" font-size="11.5" fill="#1a1a1a">≥</text>
<text x="435.4" y="430.4" font-family="Liberation Serif" font-size="10.5" font-style="italic" fill="#1a1a1a">μ</text>
<text x="440.9" y="427.4" font-family="Liberation Serif" font-size="7.2" fill="#1a1a1a">min</text>
<text x="440.7" y="434" font-family="Liberation Serif" font-size="7.2" font-style="italic" fill="#1a1a1a">bias</text>
<path d="M455.5 428.1H461.3M458.4 425.2V431" stroke="#222" stroke-width="0.95" fill="none"/>
<text x="465.09" y="430.4" font-family="Liberation Serif" font-size="10.5" font-style="italic" fill="#1a1a1a">π</text>
<text x="469.69" y="430.4" font-family="Liberation Serif" font-size="10.5" font-style="italic" fill="#1a1a1a">σ</text>
<text x="475.5" y="427.4" font-family="Liberation Serif" font-size="7.2" fill="#1a1a1a">min</text>
<text x="475.3" y="434" font-family="Liberation Serif" font-size="7.2" font-style="italic" fill="#1a1a1a">bias</text>
<text x="512.7" y="179.8" font-family="Liberation Sans" font-size="8.2" fill="#4a4a4a">A least significant</text>
<text x="512.7" y="189.2" font-family="Liberation Sans" font-size="8.2" fill="#4a4a4a"><tspan font-weight="bold" fill="#151515">hidden unit are pruned</tspan> <tspan fill="#9a9a9a">if</tspan></text>
<text x="512.7" y="200.9" font-family="Liberation Serif" font-size="10.5" font-style="italic" fill="#1a1a1a">μ</text>
<text x="518" y="197" font-family="Liberation Serif" font-size="7.2" font-style="italic" fill="#1a1a1a">t</text>
<text x="518" y="201.8" font-family="Liberation Serif" font-size="7.2" font-style="italic" fill="#1a1a1a">var</text>
<path d="M530.9 198.6H536.7M533.8 195.7V201.5" stroke="#222" stroke-width="0.95" fill="none"/>
<text x="539.88" y="200.9" font-family="Liberation Serif" font-size="10.5" font-style="italic" fill="#1a1a1a">σ</text>
<text x="545.5" y="197" font-family="Liberation Serif" font-size="7.2" font-style="italic" fill="#1a1a1a">t</text>
<text x="545.5" y="201.8" font-family="Liberation Serif" font-size="7.2" font-style="italic" fill="#1a1a1a">var</text>
<text x="559.15" y="201.2" font-family="Liberation Serif" font-size="11.5" fill="#1a1a1a">≥</text>
<text x="512.7" y="211.2" font-family="Liberation Serif" font-size="10.5" font-style="italic" fill="#1a1a1a">μ</text>
<text x="518.2" y="207" font-family="Liberation Serif" font-size="7.2" fill="#1a1a1a">min</text>
<text x="518" y="212.1" font-family="Liberation Serif" font-size="7.2" font-style="italic" fill="#1a1a1a">var</text>
<path d="M532.6 208.9H538.4M535.5 206V211.8" stroke="#222" stroke-width="0.95" fill="none"/>
<text x="540.7" y="211.2" font-family="Liberation Serif" font-size="10.5" fill="#1a1a1a">2</text>
<circle cx="550.5" cy="208.8" r="0.6" fill="#222"/>
<text x="553.38" y="211.2" font-family="Liberation Serif" font-size="10.5" font-style="italic" fill="#1a1a1a">ξ</text>
<text x="557.09" y="211.2" font-family="Liberation Serif" font-size="10.5" font-style="italic" fill="#1a1a1a">σ</text>
<text x="562.9" y="207" font-family="Liberation Serif" font-size="7.2" fill="#1a1a1a">min</text>
<text x="562.7" y="212.1" font-family="Liberation Serif" font-size="7.2" font-style="italic" fill="#1a1a1a">var</text>
<text x="190.1" y="407.8" font-family="Liberation Sans" font-size="8.2" fill="#4a4a4a">A least significant</text>
<text x="190.1" y="417.6" font-family="Liberation Sans" font-size="8.2" fill="#4a4a4a"><tspan font-weight="bold" fill="#151515">hidden unit are pruned</tspan> <tspan fill="#9a9a9a">if</tspan></text>
<text x="190.1" y="430.1" font-family="Liberation Serif" font-size="10.5" font-style="italic" fill="#1a1a1a">μ</text>
<text x="195.4" y="426.2" font-family="Liberation Serif" font-size="7.2" font-style="italic" fill="#1a1a1a">t</text>
<text x="195.4" y="431" font-family="Liberation Serif" font-size="7.2" font-style="italic" fill="#1a1a1a">var</text>
<path d="M208.6 427.8H214.4M211.5 424.9V430.7" stroke="#222" stroke-width="0.95" fill="none"/>
<text x="217.19" y="430.1" font-family="Liberation Serif" font-size="10.5" font-style="italic" fill="#1a1a1a">σ</text>
<text x="222.8" y="426.2" font-family="Liberation Serif" font-size="7.2" font-style="italic" fill="#1a1a1a">t</text>
<text x="222.8" y="431" font-family="Liberation Serif" font-size="7.2" font-style="italic" fill="#1a1a1a">var</text>
<text x="234.95" y="430.4" font-family="Liberation Serif" font-size="11.5" fill="#1a1a1a">≥</text>
<text x="247" y="430.1" font-family="Liberation Serif" font-size="10.5" font-style="italic" fill="#1a1a1a">μ</text>
<text x="252.5" y="425.9" font-family="Liberation Serif" font-size="7.2" fill="#1a1a1a">min</text>
<text x="252.3" y="431" font-family="Liberation Serif" font-size="7.2" font-style="italic" fill="#1a1a1a">var</text>
<path d="M267.1 427.8H272.9M270 424.9V430.7" stroke="#222" stroke-width="0.95" fill="none"/>
<text x="276.1" y="430.1" font-family="Liberation Serif" font-size="10.5" fill="#1a1a1a">2</text>
<circle cx="284.7" cy="427.7" r="0.6" fill="#222"/>
<text x="287.88" y="430.1" font-family="Liberation Serif" font-size="10.5" font-style="italic" fill="#1a1a1a">ξ</text>
<text x="291.29" y="430.1" font-family="Liberation Serif" font-size="10.5" font-style="italic" fill="#1a1a1a">σ</text>
<text x="297.1" y="425.9" font-family="Liberation Serif" font-size="7.2" fill="#1a1a1a">min</text>
<text x="296.9" y="431" font-family="Liberation Serif" font-size="7.2" font-style="italic" fill="#1a1a1a">var</text>
</svg>
</body></html>
